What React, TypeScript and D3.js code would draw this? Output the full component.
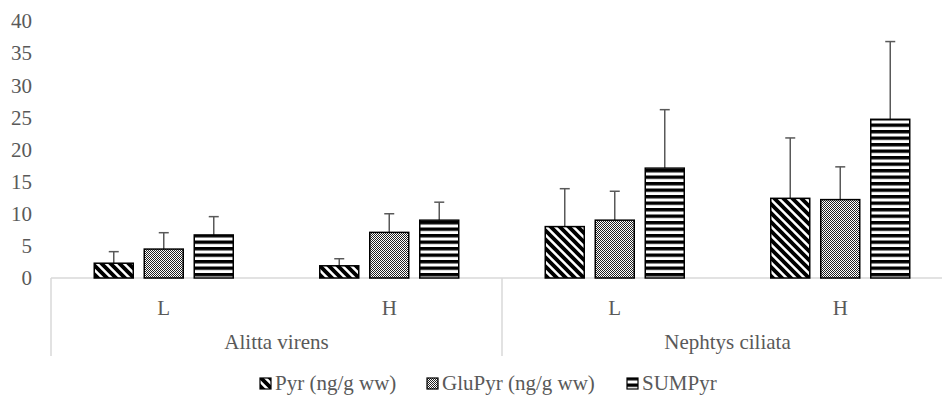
import React from 'react';
import * as d3 from 'd3';

// categories
const species = ['Alitta virens', 'Nephtys ciliata'];
const levels = ['L', 'H'];

// series (means and upper error, ng/g ww)
const seriesNames = ['Pyr (ng/g ww)', 'GluPyr (ng/g ww)', 'SUMPyr'];
const pyr = [2.3, 1.9, 8.0, 12.4];
const pyrErr = [1.8, 1.1, 5.9, 9.4];
const gluPyr = [4.5, 7.1, 9.0, 12.2];
const gluPyrErr = [2.55, 2.9, 4.5, 5.1];
const sumPyr = [6.7, 9.0, 17.1, 24.7];
const sumPyrErr = [2.85, 2.8, 9.1, 12.1];

const yTicks = [0, 5, 10, 15, 20, 25, 30, 35, 40];

const W = 942;
const H = 395;
const TXT = '#595959';
const textStyle = { fontFamily: 'Liberation Serif, serif', fontSize: '21px' };

const App = () => {
  const cats = species.flatMap((s) => levels.map((l) => `${s}|${l}`));
  const values = [pyr, gluPyr, sumPyr];
  const errs = [pyrErr, gluPyrErr, sumPyrErr];
  const patIds = ['patDiag', 'patCheck', 'patHoriz'];

  const x0 = d3.scaleBand().domain(cats).range([51, 953]).padding(0);
  const x1 = d3
    .scaleBand()
    .domain(seriesNames)
    .range([0, 150])
    .paddingInner(0.22)
    .paddingOuter(0.11);
  const y = d3.scaleLinear().domain([0, 40]).range([278, 21]);

  const catW = x0.bandwidth();
  const xs = (c: string, s: string) => x0(c)! + catW / 2 - 75 + x1(s)!;

  // legend layout
  const legend = [
    { name: seriesNames[0], x: 260 },
    { name: seriesNames[1], x: 427 },
    { name: seriesNames[2], x: 627 },
  ];

  return (
    <svg
      width={W}
      height={H}
      style={{ position: 'absolute', left: 0, top: 0, background: '#fff' }}
    >
      <defs>
        <pattern id="patDiag" patternUnits="userSpaceOnUse" width="9" height="9">
          <rect width="9" height="9" fill="#fff" />
          <path d="M-3,-3 L12,12 M-3,6 L3,12 M6,-3 L12,3" stroke="#000" strokeWidth="3.8" />
        </pattern>
        <pattern id="patCheck" patternUnits="userSpaceOnUse" width="2" height="2">
          <rect width="2" height="2" fill="#fff" />
          <rect width="1" height="1" fill="#222" />
          <rect x="1" y="1" width="1" height="1" fill="#222" />
        </pattern>
        <pattern id="patHoriz" patternUnits="userSpaceOnUse" width="6.5" height="6.5">
          <rect width="6.5" height="6.5" fill="#fff" />
          <rect width="6.5" height="3.4" fill="#000" />
        </pattern>
      </defs>

      {/* y tick labels */}
      {yTicks.map((t) => (
        <text
          key={t}
          x={32}
          y={y(t)}
          dy="0.35em"
          textAnchor="end"
          style={textStyle}
          fill={TXT}
        >
          {t}
        </text>
      ))}

      {/* category axis */}
      <line x1={51} x2={W} y1={278} y2={278} stroke="#d9d9d9" strokeWidth={1.5} />
      <line x1={51} x2={51} y1={278} y2={356} stroke="#d9d9d9" strokeWidth={1.5} />
      <line
        x1={x0(cats[2])}
        x2={x0(cats[2])}
        y1={278}
        y2={356}
        stroke="#d9d9d9"
        strokeWidth={1.5}
      />
      {cats.map((c) => (
        <text
          key={c}
          x={x0(c)! + catW / 2}
          y={315}
          textAnchor="middle"
          style={textStyle}
          fill={TXT}
        >
          {c.split('|')[1]}
        </text>
      ))}
      {species.map((s, i) => (
        <text
          key={s}
          x={x0(cats[i * 2])! + catW}
          y={349}
          textAnchor="middle"
          style={textStyle}
          fill={TXT}
        >
          {s}
        </text>
      ))}

      {/* bars */}
      {seriesNames.map((s, si) =>
        cats.map((c, ci) => {
          const v = values[si][ci];
          const bx = xs(c, s);
          const bw = x1.bandwidth();
          return (
            <g key={`${s}-${c}`}>
              <line
                x1={bx + bw / 2}
                x2={bx + bw / 2}
                y1={y(v)}
                y2={y(v + errs[si][ci])}
                stroke="#595959"
                strokeWidth={1.5}
              />
              <line
                x1={bx + bw / 2 - 5}
                x2={bx + bw / 2 + 5}
                y1={y(v + errs[si][ci])}
                y2={y(v + errs[si][ci])}
                stroke="#595959"
                strokeWidth={1.5}
              />
              <rect
                x={bx}
                y={y(v)}
                width={bw}
                height={y(0) - y(v)}
                fill={`url(#${patIds[si]})`}
                stroke="#000"
                strokeWidth={1.5}
              />
            </g>
          );
        })
      )}

      {/* legend */}
      {legend.map((l, i) => (
        <g key={l.name}>
          <rect
            x={l.x}
            y={378}
            width={11}
            height={11}
            fill={`url(#${patIds[i]})`}
            stroke="#000"
            strokeWidth={1.2}
          />
          <text x={l.x + 15} y={390} style={textStyle} fill={TXT}>
            {l.name}
          </text>
        </g>
      ))}
    </svg>
  );
};

export default App;
